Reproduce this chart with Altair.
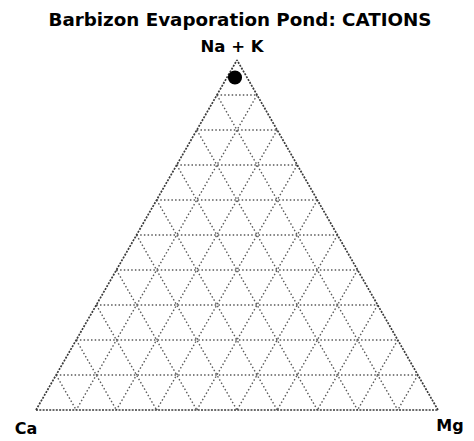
import math

import altair as alt
import pandas as pd

# Text
title_text = "Barbizon Evaporation Pond: CATIONS"
label_top = "Na + K"
label_left = "Ca"
label_right = "Mg"

# Grid levels (percent) and the sample composition (percent)
grid_levels = [10, 20, 30, 40, 50, 60, 70, 80, 90]
sample_ca = [3.0]
sample_mg = [2.0]
sample_nak = [95.0]

SQ3 = math.sqrt(3) / 2


def to_xy(ca, mg, nak):
    total = ca + mg + nak
    x = 100 * (mg + nak / 2) / total
    y = 100 * (nak * SQ3) / total
    return x, y


def segment(a, b):
    x1, y1 = to_xy(*a)
    x2, y2 = to_xy(*b)
    return {"x": x1, "y": y1, "x2": x2, "y2": y2}


# grid lines of constant Na+K, Ca and Mg
grid_rows = []
for p in grid_levels:
    q = 100 - p
    grid_rows.append(segment((q, 0, p), (0, q, p)))
    grid_rows.append(segment((p, 0, q), (p, q, 0)))
    grid_rows.append(segment((0, p, q), (q, p, 0)))
grid_df = pd.DataFrame(grid_rows)

edge_df = pd.DataFrame([
    segment((100, 0, 0), (0, 100, 0)),
    segment((100, 0, 0), (0, 0, 100)),
    segment((0, 100, 0), (0, 0, 100)),
])

sx, sy = to_xy(sample_ca[0], sample_mg[0], sample_nak[0])
sample_df = pd.DataFrame({"x": [sx], "y": [sy]})

corner = {
    "top": to_xy(0, 0, 100),
    "left": to_xy(100, 0, 0),
    "right": to_xy(0, 100, 0),
}

xs = alt.Scale(domain=[-8.955, 108.96], nice=False, zero=False)
ys = alt.Scale(domain=[-7.67, 101.45], nice=False, zero=False)
X = lambda f="x": alt.X(f, type="quantitative", scale=xs, axis=None)
Y = lambda f="y": alt.Y(f, type="quantitative", scale=ys, axis=None)

grid = alt.Chart(grid_df).mark_rule(
    color="#5a5a5a", strokeWidth=1.4, strokeDash=[1.5, 2.2]
).encode(x=X(), y=Y(), x2="x2", y2="y2")

edges = alt.Chart(edge_df).mark_rule(
    color="#3a3a3a", strokeWidth=1.7, strokeDash=[2, 1.3]
).encode(x=X(), y=Y(), x2="x2", y2="y2")

point = alt.Chart(sample_df).mark_point(
    filled=True, color="black", opacity=1, size=200, shape="circle"
).encode(x=X(), y=Y())

font = "DejaVu Sans"


def corner_text(key, text, dx, dy, size):
    cx, cy = corner[key]
    df = pd.DataFrame({"x": [cx], "y": [cy], "t": [text]})
    return alt.Chart(df).mark_text(
        font=font, fontWeight="bold", fontSize=size, color="black",
        dx=dx, dy=dy, baseline="middle", align="center"
    ).encode(x=X(), y=Y(), text="t:N")


t_top = corner_text("top", label_top, -5, -13, 16.5)
t_left = corner_text("left", label_left, -10, 19, 16)
t_right = corner_text("right", label_right, 12, 16, 16)

title = alt.Chart(pd.DataFrame({"t": [title_text]})).mark_text(
    font=font, fontWeight="bold", fontSize=18.3, color="black",
    baseline="middle", align="center"
).encode(x=alt.value(240), y=alt.value(21), text="t:N")

chart = alt.layer(grid, edges, point, t_top, t_left, t_right, title).properties(
    width=474, height=441, autosize=alt.AutoSizeParams(type="none"),
    padding=0, background="white"
).configure_view(stroke=None)

chart.save("out.html", embed_options={"renderer": "svg", "actions": False})
